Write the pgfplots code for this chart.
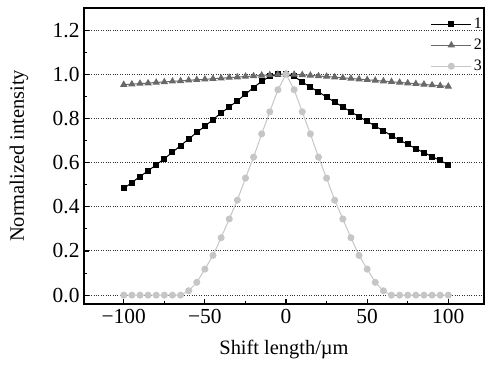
\documentclass[border=0pt]{standalone}
\usepackage{fontspec}
\setmainfont{Liberation Serif}
\usepackage{pgfplots}
\pgfplotsset{compat=1.18}
\definecolor{sertwo}{RGB}{105,105,105}
\definecolor{serthree}{RGB}{198,198,198}
\begin{document}
\begin{tikzpicture}
\begin{axis}[
  name=ax,
  scale only axis,
  width=400bp, height=296bp,
  xmin=-124.5, xmax=122,
  ymin=-0.04, ymax=1.3,
  axis line style={line width=1.3pt},
  tick pos=left,
  tick align=inside,
  major tick length=5bp, minor tick length=3bp,
  tick style={black, line width=1.1pt},
  xtick={-100,-50,0,50,100},
  xticklabels={−100,−50,0,50,100},
  minor xtick={-75,-25,25,75},
  ytick={0,0.2,...,1.21},
  minor ytick={0.1,0.3,...,1.21},
  yticklabel style={xshift=-1bp, /pgf/number format/fixed, /pgf/number format/fixed zerofill, /pgf/number format/precision=1},
  /pgf/number format/assume math mode=true,
  ymajorgrids,
  grid style={dotted, line width=1pt, black!80},
  tick label style={font=\fontsize{21.5}{23}\selectfont},
  xticklabel style={yshift=-2bp},
  label style={font=\fontsize{20.5}{23}\selectfont},
  xlabel={Shift length/µm},
  ylabel={Normalized intensity},
  xlabel style={at={(axis description cs:0.5,0)}, anchor=center, yshift=-46bp},
  ylabel style={at={(axis description cs:0,0.5)}, anchor=center, xshift=0bp, yshift=65bp},
  legend style={at={(1,1)}, anchor=north east, yshift=-7bp, xshift=1bp, draw=none, fill=none,
    font=\fontsize{16}{18}\selectfont, row sep=5bp, inner sep=1bp,
    cells={anchor=west}},
  legend image code/.code={\draw[mark repeat=2,mark phase=2] plot coordinates {(0bp,0bp)(20bp,0bp)(40bp,0bp)};},
]
\addplot[black, line width=1pt, mark=square*, mark size=2.5bp] coordinates {
(-100,0.483)(-95,0.51)(-90,0.537)(-85,0.563)(-80,0.59)(-75,0.618)(-70,0.647)
(-65,0.677)(-60,0.707)(-55,0.737)(-50,0.765)(-45,0.795)(-40,0.825)(-35,0.852)
(-30,0.88)(-25,0.91)(-20,0.94)(-15,0.968)(-10,0.99)(-5,1.0)(0,1.0)
(5,0.99)(10,0.965)(15,0.942)(20,0.92)(25,0.897)(30,0.874)(35,0.852)(40,0.83)
(45,0.808)(50,0.787)(55,0.765)(60,0.744)(65,0.722)(70,0.702)(75,0.683)
(80,0.663)(85,0.645)(90,0.627)(95,0.61)(100,0.59)};
\addlegendentry{1}
\addplot[sertwo, line width=1pt, mark=triangle*, mark size=3.3bp] coordinates {
(-100,0.953)(-95,0.955)(-90,0.958)(-85,0.96)(-80,0.963)(-75,0.965)(-70,0.968)
(-65,0.97)(-60,0.973)(-55,0.975)(-50,0.977)(-45,0.98)(-40,0.982)(-35,0.985)
(-30,0.987)(-25,0.99)(-20,0.992)(-15,0.995)(-10,0.997)(-5,0.999)(0,1.0)
(5,0.999)(10,0.997)(15,0.995)(20,0.992)(25,0.99)(30,0.987)(35,0.984)(40,0.981)
(45,0.978)(50,0.975)(55,0.972)(60,0.969)(65,0.966)(70,0.963)(75,0.96)
(80,0.957)(85,0.954)(90,0.951)(95,0.948)(100,0.945)};
\addlegendentry{2}
\addplot[serthree, line width=1pt, mark=*, mark size=3bp] coordinates {
(-100,0)(-95,0)(-90,0)(-85,0)(-80,0)(-75,0)(-70,0)(-65,0)
(-60,0.02)(-55,0.058)(-50,0.118)(-45,0.18)(-40,0.26)(-35,0.345)(-30,0.43)
(-25,0.53)(-20,0.625)(-15,0.73)(-10,0.83)(-5,0.93)(0,1.0)
(5,0.93)(10,0.83)(15,0.73)(20,0.625)(25,0.53)(30,0.43)(35,0.345)(40,0.26)
(45,0.18)(50,0.118)(55,0.058)(60,0.02)(65,0)(70,0)(75,0)(80,0)(85,0)
(90,0)(95,0)(100,0)};
\addlegendentry{3}
\end{axis}
\pgfresetboundingbox
\path (ax.south west) ++(-84bp,-64bp) coordinate (bbA);
\path (ax.north east) ++(3bp,8bp) coordinate (bbB);
\path[use as bounding box] (bbA) rectangle (bbB);
\end{tikzpicture}
\end{document}
